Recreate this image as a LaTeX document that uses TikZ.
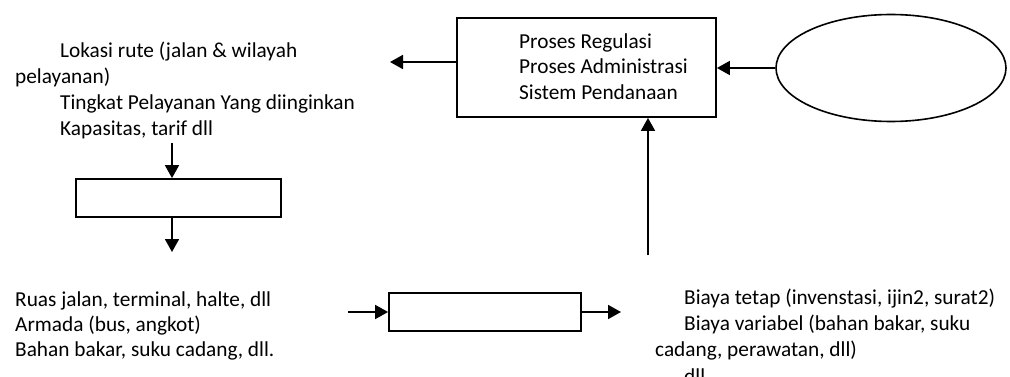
\documentclass[tikz,border=0pt]{standalone}
\usepackage{fontspec}
\setmainfont{Carlito}
\usetikzlibrary{arrows.meta,shapes.geometric}
\begin{document}
\begin{tikzpicture}[x=1pt,y=-1pt,
  txt/.style={anchor=base west,inner sep=0pt,font=\fontsize{21.3}{26}\selectfont},
  boxnode/.style={draw,line width=1.8pt,rectangle,inner sep=0pt},
  flow/.style={line width=1.8pt,-{Triangle[length=13pt,width=14pt]}}]
\useasboundingbox (0,0) rectangle (1010,377);

% boxes and the ellipse
\node[boxnode,minimum width=259pt,minimum height=99pt] (reg) at (586.5,67.5) {};
\node[draw,line width=1.6pt,ellipse,inner sep=0pt,minimum width=230pt,minimum height=107pt] (ell) at (891,68) {};
\node[boxnode,minimum width=205pt,minimum height=38pt] (plan) at (178.5,198) {};
\node[boxnode,minimum width=192pt,minimum height=38pt] (ops) at (485,312) {};

% text inside the top box
\node[txt] (r1) at (519,48.5) {Proses Regulasi};
\node[txt] (r2) at (519,74) {Proses Administrasi};
\node[txt] (r3) at (519,99.5) {Sistem Pendanaan};

% requirement list, top left
\node[txt] (a1) at (60,58) {Lokasi rute (jalan \& wilayah};
\node[txt] (a2) at (15,84) {pelayanan)};
\node[txt] (a3) at (60,110) {Tingkat Pelayanan Yang diinginkan};
\node[txt] (a4) at (60,136) {Kapasitas, tarif dll};

% resources list, bottom left
\node[txt] (b1) at (15,306) {Ruas jalan, terminal, halte, dll};
\node[txt] (b2) at (15,331) {Armada (bus, angkot)};
\node[txt] (b3) at (15,356) {Bahan bakar, suku cadang, dll.};

% cost list, bottom right
\node[txt] (c1) at (684,304) {Biaya tetap (invenstasi, ijin2, surat2)};
\node[txt] (c2) at (684,330) {Biaya variabel (bahan bakar, suku};
\node[txt] (c3) at (655,356) {cadang, perawatan, dll)};
\node[txt] (c4) at (684,383) {dll};

% free ends of the connectors
\coordinate (outL) at (390,62);
\coordinate (upBase) at (648,255);
\coordinate (planIn) at (172,143);
\coordinate (planOut) at (172,252);
\coordinate (opsIn) at (348,312);
\coordinate (opsOut) at (621,312);

% connectors
\draw[flow] (ell.west) -- (ell.west -| reg.east);
\draw[flow] (reg.west |- outL) -- (outL);
\draw[flow] (upBase) -- (upBase |- reg.south);
\draw[flow] (planIn) -- (planIn |- plan.north);
\draw[flow] (plan.south -| planOut) -- (planOut);
\draw[flow] (opsIn) -- (ops.west);
\draw[flow] (ops.east) -- (opsOut);
\end{tikzpicture}
\end{document}
